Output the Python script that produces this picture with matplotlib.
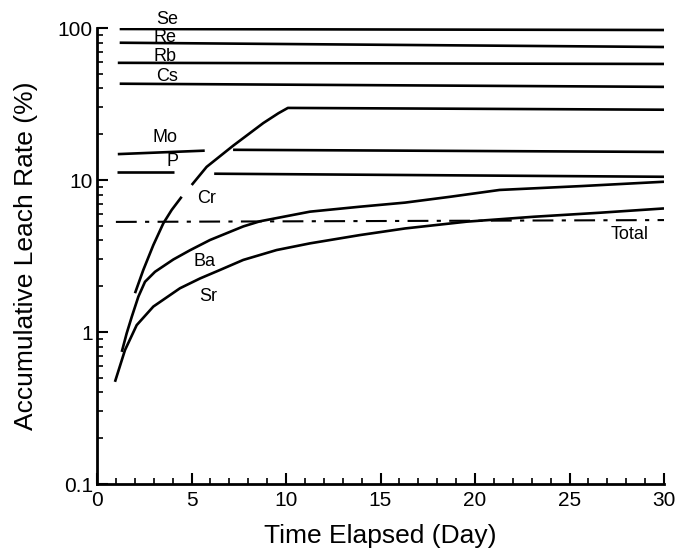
import numpy as np
import matplotlib
matplotlib.use("Agg")
import matplotlib.pyplot as plt
from matplotlib.ticker import FixedLocator, NullFormatter, LogLocator

plt.rcParams['font.family'] = ['Liberation Sans', 'DejaVu Sans']

# ---- data (day, accumulative leach rate %) ----
se_days = [1.2, 30]
se_vals = [98.5, 97]
re_days = [1.2, 30]
re_vals = [80, 75]
rb_days = [1.1, 30]
rb_vals = [59, 58]
cs_days = [1.2, 30]
cs_vals = [43, 41]

cr_days_a = [2.01, 2.45, 2.98, 3.51, 3.95, 4.48]
cr_vals_a = [1.8, 2.56, 3.73, 5.19, 6.35, 7.76]
cr_days_b = [5.01, 5.8, 7.2, 8.8, 9.6, 10.1, 30]
cr_vals_b = [9.27, 12.2, 16.8, 23.7, 27.5, 29.8, 29]

mo_days_a = [1.1, 5.7]
mo_vals_a = [14.8, 15.6]
mo_days_b = [7.2, 30]
mo_vals_b = [15.8, 15.3]

p_days_a = [1.05, 4.1]
p_vals_a = [11.3, 11.3]
p_days_b = [6.2, 30]
p_vals_b = [11.0, 10.5]

total_days = [1.0, 30]
total_vals = [5.3, 5.45]

ba_days = [1.31, 1.57, 1.84, 2.19, 2.54, 3.07, 4.04, 4.92, 5.98, 7.74, 8.62,
           11.27, 13.9, 16.3, 18.7, 21.3, 25.7, 30]
ba_vals = [0.74, 0.98, 1.26, 1.71, 2.14, 2.49, 3.0, 3.45, 4.03, 4.95, 5.35,
           6.19, 6.67, 7.1, 7.76, 8.6, 9.13, 9.74]

sr_days = [0.95, 1.48, 2.1, 2.98, 4.39, 5.45, 6.51, 7.74, 9.5, 11.27, 13.9,
           16.3, 19.56, 23.1, 26.6, 30]
sr_vals = [0.47, 0.76, 1.11, 1.47, 1.94, 2.25, 2.56, 2.98, 3.46, 3.83, 4.34,
           4.8, 5.32, 5.73, 6.09, 6.5]

labels = ["Se", "Re", "Rb", "Cs", "Mo", "P", "Cr", "Ba", "Sr", "Total"]
label_x = [3.7, 3.6, 3.6, 3.7, 3.6, 4.0, 5.8, 5.7, 5.9, 28.2]
label_y = [114, 87, 65, 48, 18.9, 13.3, 7.6, 2.9, 1.7, 4.4]

xticks = [0, 5, 10, 15, 20, 25, 30]
yticks = [0.1, 1, 10, 100]
ytick_labels = ["0.1", "1", "10", "100"]

fig = plt.figure(figsize=(6.76, 5.5), dpi=100)
ax = fig.add_axes([97/676, 1-484/550, (664-97)/676, (484-28)/550])

lw = 1.9
kw = dict(color='black', lw=lw, solid_capstyle='butt', solid_joinstyle='round')
for d, v in [(se_days, se_vals), (re_days, re_vals), (rb_days, rb_vals), (cs_days, cs_vals),
             (cr_days_a, cr_vals_a), (cr_days_b, cr_vals_b),
             (mo_days_a, mo_vals_a), (mo_days_b, mo_vals_b),
             (p_days_a, p_vals_a), (p_days_b, p_vals_b), (ba_days, ba_vals), (sr_days, sr_vals)]:
    ax.plot(d, v, **kw)
ax.plot(total_days, total_vals, color='black', lw=1.5, linestyle=(0, (10, 4, 2, 4)))

for t, x, y in zip(labels, label_x, label_y):
    ax.text(x, y, t, fontsize=13, ha='center', va='center', clip_on=False)

ax.set_yscale('log')
ax.set_xlim(0, 30)
ax.set_ylim(0.1, 100)
ax.set_xticks(xticks)
ax.set_xticklabels([str(x) for x in xticks])
ax.xaxis.set_minor_locator(FixedLocator(np.arange(0, 31, 1)))
ax.set_yticks(yticks)
ax.set_yticklabels(ytick_labels)
ax.yaxis.set_minor_locator(LogLocator(base=10, subs=np.arange(2, 10)))
ax.yaxis.set_minor_formatter(NullFormatter())

for s in ['top', 'right']:
    ax.spines[s].set_visible(False)
for s in ['left', 'bottom']:
    ax.spines[s].set_linewidth(2)

ax.tick_params(which='major', direction='in', length=8, width=1.5, labelsize=15, pad=3)
ax.tick_params(axis='x', which='major', pad=5)
ax.tick_params(which='minor', direction='in', length=4, width=1.2)

ax.set_xlabel("Time Elapsed (Day)", fontsize=19, labelpad=10)
ax.set_ylabel("Accumulative Leach Rate (%)", fontsize=19, labelpad=14)

fig.savefig("out.png", dpi=100)
